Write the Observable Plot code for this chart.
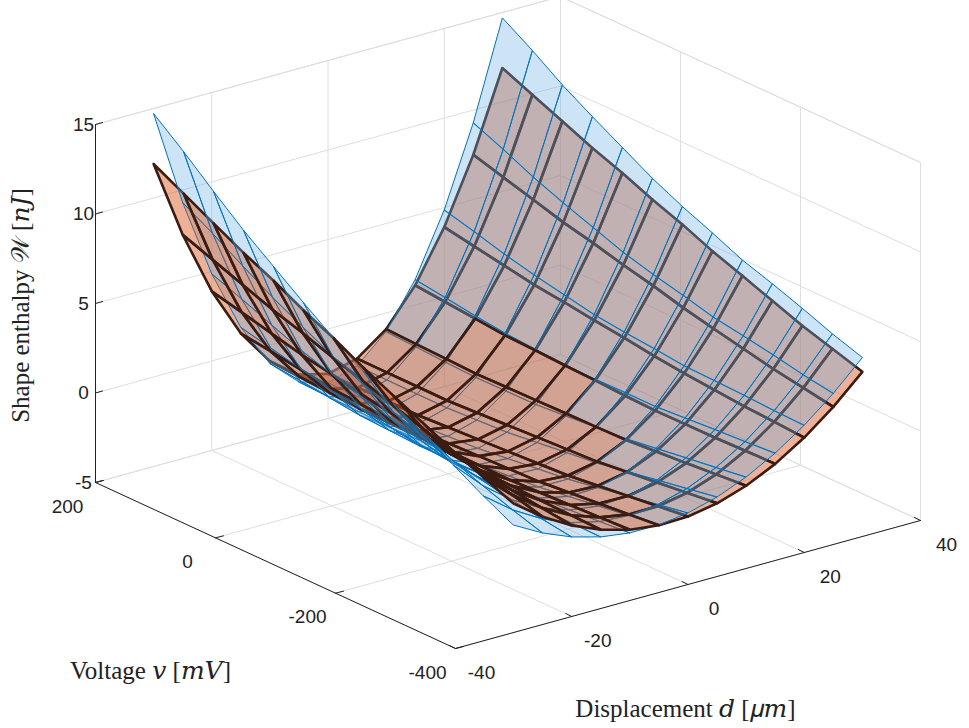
<!DOCTYPE html>
<html><head><meta charset="utf-8">
<script src="https://cdn.jsdelivr.net/npm/d3@7"></script>
<script src="https://cdn.jsdelivr.net/npm/@observablehq/plot@0.6"></script>
<style>body{margin:0;background:#fff}</style>
</head><body><div id="c"></div>
<script>
const dGrid = [-30,-25,-20,-15,-10,-5,0,5,10,15,20,25,30];
const vGrid = [200,150,100,50,0,-50,-100,-150,-200,-250,-300,-350,-400];
// per-row shape parameters: W = off + tilt*(d/30) + curv*(d/30)^2
const blueCurv = [17.7,16.5,15.2,14.0,12.8,11.6,10.4,9.3,8.2,7.2,6.1,5.0,4.0];
const blueTilt = [0,0.15,0.3,0.5,0.65,0.8,1.0,1.2,1.35,1.5,1.7,1.85,2.0];
const blueOff  = [-3,-3,-3,-3,-2.9,-2.8,-2.6,-2.4,-2.2,-1.9,-1.6,-1.3,-1.0];
const orCurv = [14.4,13.6,12.8,12.0,11.2,10.3,9.5,8.6,7.8,6.9,6.0,5.2,4.4];
const orTilt = [0,0.08,0.17,0.25,0.33,0.42,0.5,0.58,0.67,0.75,0.83,0.92,1.0];
const orOff  = [-2.5,-2.5,-2.5,-2.5,-2.4,-2.3,-2.2,-2.1,-2.0,-1.8,-1.6,-1.4,-1.2];
const wTicks = [-5,0,5,10,15];
const vTicks = [200,0,-200,-400];
const dTicks = [-40,-20,0,20,40];

function P(d,v,W){return [95+(d+40)/80*465+(200-v)/600*360, 482-(d+40)/80*128+(200-v)/600*166-(W+5)*17.9];}
function surf(curv,tilt,off,name){
  const W=vGrid.map((v,i)=>dGrid.map(d=>off[i]+tilt[i]*(d/30)+curv[i]*(d/30)**2));
  const cells=[];
  for(let i=0;i<vGrid.length-1;i++)for(let j=0;j<dGrid.length-1;j++){
    const c=[[i,j],[i,j+1],[i+1,j+1],[i+1,j]];
    const vc=(vGrid[i]+vGrid[i+1])/2, dc=(dGrid[j]+dGrid[j+1])/2;
    const wc=c.reduce((s,[a,b])=>s+W[a][b],0)/4;
    cells.push({name,depth:(vc+400)/600+(dc+40)/80-wc*0.004,pts:c.map(([a,b])=>P(dGrid[b],vGrid[a],W[a][b]))});
  }
  return cells;
}
const cells=[...surf(orCurv,orTilt,orOff,"o"),...surf(blueCurv,blueTilt,blueOff,"b")].sort((a,b)=>b.depth-a.depth);
const poly=[];cells.forEach((c,k)=>c.pts.forEach(p=>poly.push({k,name:c.name,x:p[0],y:p[1]})));

const grid=[];let g=0;
const seg=(a,b)=>{grid.push({k:g,x:a[0],y:a[1]},{k:g,x:b[0],y:b[1]});g++;};
dTicks.forEach(d=>{seg(P(d,200,-5),P(d,-400,-5));seg(P(d,200,-5),P(d,200,15));});
vTicks.forEach(v=>{seg(P(-40,v,-5),P(40,v,-5));seg(P(40,v,-5),P(40,v,15));});
wTicks.forEach(w=>{seg(P(-40,200,w),P(40,200,w));seg(P(40,200,w),P(40,-400,w));});
seg(P(-40,200,15),P(40,200,15));seg(P(40,200,15),P(40,-400,15));seg(P(40,-400,-5),P(40,-400,15));

const axes=[];let a=0;
const aseg=(p,q)=>{axes.push({k:a,x:p[0],y:p[1]},{k:a,x:q[0],y:q[1]});a++;};
aseg(P(-40,200,-5),P(-40,200,15));aseg(P(-40,200,-5),P(-40,-400,-5));aseg(P(-40,-400,-5),P(40,-400,-5));
wTicks.forEach(w=>{const p=P(-40,200,w);aseg(p,[p[0]+7,p[1]-2]);});
vTicks.forEach(v=>{const p=P(-40,v,-5);aseg(p,[p[0]+8,p[1]-2]);});
dTicks.forEach(d=>{const p=P(d,-400,-5);aseg(p,[p[0]-6,p[1]-3]);});

const labels=[
 ...wTicks.map(w=>{const p=P(-40,200,w);return {x:p[0]-12,y:p[1],t:String(w),a:"end"};}),
 ...vTicks.map(v=>{const p=P(-40,v,-5);return {x:p[0]-28,y:p[1]+24,t:String(v),a:"middle"};}),
 ...dTicks.map(d=>{const p=P(d,-400,-5);return {x:p[0]+26,y:p[1]+24,t:String(d),a:"middle"};})
];
const I={domain:[0,969],range:[0,969]};
const chart=Plot.plot({width:969,height:728,margin:0,x:I,y:{domain:[0,728],range:[0,728]},axis:null,
 style:{background:"#fff"},
 marks:[
  Plot.line(grid,{x:"x",y:"y",z:"k",stroke:"#dedede",strokeWidth:1}),
  Plot.line(poly,{x:"x",y:"y",z:"k",curve:"linear-closed",
    fill:d=>d.name==="b"?"#6fb1e4":"#d95319",fillOpacity:d=>d.name==="b"?0.35:0.45,
    stroke:d=>d.name==="b"?"#0072bd":"#3a1c12",strokeWidth:d=>d.name==="b"?1:2.6}),
  Plot.line(axes,{x:"x",y:"y",z:"k",stroke:"#222",strokeWidth:1}),
  Plot.text(labels,{x:"x",y:"y",text:"t",textAnchor:"a",fontSize:19,fontFamily:"Liberation Sans, Arial",fill:"#222"}),
  Plot.text([{x:20,y:305}],{x:"x",y:"y",text:()=>"Shape enthalpy 𝒲 [𝑛𝐽]",rotate:-90,fontSize:25,fontFamily:"Liberation Serif, DejaVu Serif, serif",fill:"#222"}),
  Plot.text([{x:150,y:670}],{x:"x",y:"y",text:()=>"Voltage 𝑣 [𝑚𝑉]",fontSize:25,fontFamily:"Liberation Serif, DejaVu Serif, serif",fill:"#222"}),
  Plot.text([{x:685,y:708}],{x:"x",y:"y",text:()=>"Displacement 𝑑 [𝜇𝑚]",fontSize:25,fontFamily:"Liberation Serif, DejaVu Serif, serif",fill:"#222"})
 ]});
document.getElementById("c").append(chart);
</script></body></html>
